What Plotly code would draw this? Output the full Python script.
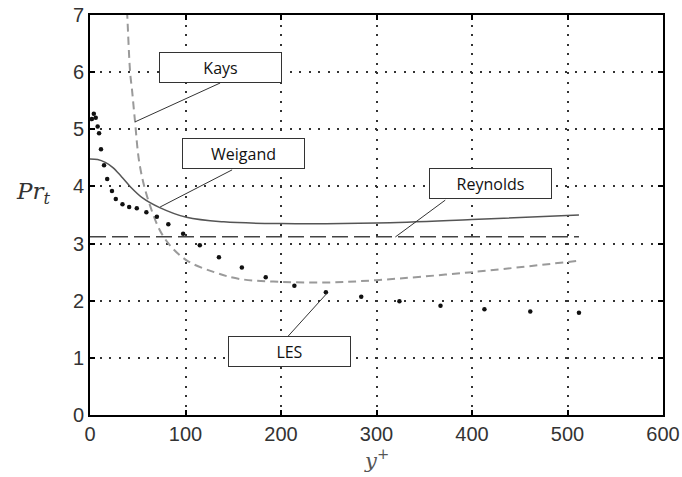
import plotly.graph_objects as go

# ---- data ----
les_x = [2, 4, 6, 8, 9.5, 11.5, 14.7, 18, 23, 27, 34, 41, 49, 59, 70, 82, 97.5, 115, 135, 159, 184, 214, 247, 284, 324, 367, 413, 461, 512]
les_y = [5.18, 5.27, 5.2, 5.05, 4.93, 4.65, 4.37, 4.13, 3.92, 3.78, 3.69, 3.64, 3.62, 3.55, 3.47, 3.34, 3.17, 2.97, 2.76, 2.58, 2.41, 2.26, 2.15, 2.07, 1.99, 1.91, 1.85, 1.81, 1.79]

weigand_x = [0, 8, 16, 24, 33, 42, 55, 73, 101, 140, 200, 300, 400, 512]
weigand_y = [4.48, 4.47, 4.42, 4.33, 4.17, 4.0, 3.8, 3.63, 3.46, 3.38, 3.35, 3.36, 3.42, 3.5]

kays_x = [38, 39, 42, 44, 47, 52, 61, 77, 100, 130, 157, 200, 250, 300, 400, 512]
kays_y = [7.3, 7.0, 6.0, 5.69, 5.16, 4.38, 3.76, 3.12, 2.72, 2.5, 2.38, 2.33, 2.32, 2.36, 2.5, 2.7]

reynolds_x = [0, 512]
reynolds_y = [3.12, 3.12]

x_ticks = [0, 100, 200, 300, 400, 500, 600]
y_ticks = [0, 1, 2, 3, 4, 5, 6, 7]

fig = go.Figure()
fig.add_trace(go.Scatter(x=reynolds_x, y=reynolds_y, mode="lines",
                         line=dict(color="#444444", width=1.5, dash="16px,6px")))
fig.add_trace(go.Scatter(x=weigand_x, y=weigand_y, mode="lines", line_shape="spline",
                         line=dict(color="#555555", width=1.5)))
fig.add_trace(go.Scatter(x=kays_x, y=kays_y, mode="lines", line_shape="spline",
                         line=dict(color="#9a9a9a", width=2, dash="8px,5px")))
fig.add_trace(go.Scatter(x=les_x, y=les_y, mode="markers",
                         marker=dict(color="#111111", size=4.5)))

# label boxes and leader lines
labels = [
    ("Kays", 136.8, 6.08, (136.3, 5.81), (47.2, 5.13)),
    ("Weigand", 160.9, 4.57, (148.8, 4.29), (73.4, 3.64)),
    ("Reynolds", 419.3, 4.05, (372.0, 3.76), (319.7, 3.115)),
    ("LES", 208.6, 1.11, (207.5, 1.38), (248.4, 2.135)),
]
for text, cx, cy, p0, p1 in labels:
    fig.add_shape(type="line", x0=p0[0], y0=p0[1], x1=p1[0], y1=p1[1],
                  line=dict(color="#333333", width=1))
    fig.add_annotation(x=cx, y=cy, text=text, showarrow=False, width=119, height=27,
                       bgcolor="white", bordercolor="#333333", borderwidth=1, borderpad=1,
                       font=dict(family="Open Sans, sans-serif", size=16, color="#111111"))

fig.add_annotation(xref="paper", yref="paper", x=-0.10, y=0.555, xanchor="center", yanchor="middle",
                   text="<i>Pr</i><sub><i>t</i></sub>", showarrow=False,
                   font=dict(family="DejaVu Serif, serif", size=23, color="#333333"))
fig.add_annotation(xref="paper", yref="paper", x=0.5, y=-0.11, xanchor="center", yanchor="middle",
                   text="<i>y</i><sup>+</sup>", showarrow=False,
                   font=dict(family="DejaVu Serif, serif", size=21, color="#555555"))

axis_common = dict(showline=True, linecolor="black", linewidth=2, mirror="ticks",
                   ticks="inside", ticklen=5, tickcolor="black", tickwidth=2,
                   showgrid=True, gridcolor="#333333", gridwidth=1.5, griddash="2px,7.5px",
                   zeroline=False, automargin=False, ticklabeloverflow="allow",
                   tickfont=dict(family="Liberation Sans, Arial, sans-serif", size=20, color="#333333"))

fig.update_xaxes(range=[0, 600], tickvals=x_ticks, **axis_common)
fig.update_yaxes(range=[0, 7], tickvals=y_ticks, **axis_common)

fig.update_layout(width=682, height=477, margin=dict(l=90, r=19, t=15, b=62, autoexpand=False),
                  plot_bgcolor="white", paper_bgcolor="white", showlegend=False)

fig.write_html("out.html", config={"displayModeBar": False},
               post_script="document.body.style.margin='0';")
